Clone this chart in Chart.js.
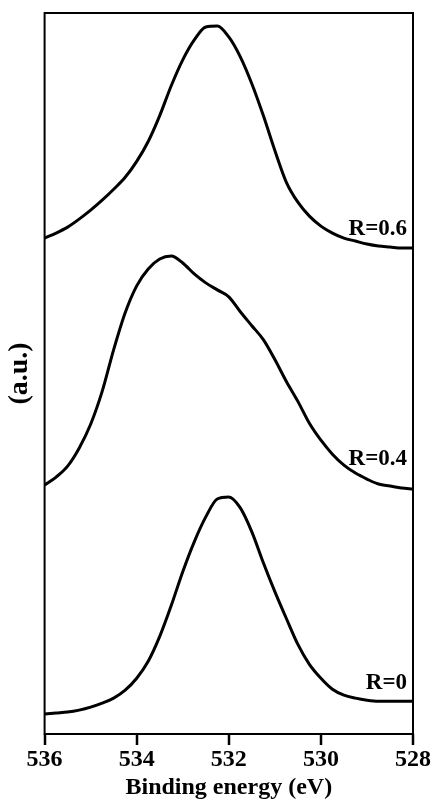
<!DOCTYPE html>
<html>
<head>
<meta charset="utf-8">
<script src="https://cdn.jsdelivr.net/npm/chart.js@4/dist/chart.umd.min.js"></script>
<style>
  html, body { margin: 0; padding: 0; background: #fff; }
  #wrap { width: 437px; height: 800px; position: relative; }
</style>
</head>
<body>
<div id="wrap"><canvas id="xps"></canvas></div>
<script>
// binding energy samples (eV)
const energies = [536, 535.75, 535.5, 535.25, 535, 534.75, 534.5, 534.25, 534, 533.75, 533.5,
  533.25, 533, 532.75, 532.5, 532.25, 532, 531.75, 531.5, 531.25, 531, 530.75, 530.5,
  530.25, 530, 529.75, 529.5, 529.25, 529, 528.75, 528.5, 528.25, 528];

// intensities (a.u., curves already offset as in the figure)
const r06 = [498, 503, 509, 517, 526, 536, 547, 559, 575, 595, 621, 651, 677, 697, 710, 711,
  700, 680, 653, 621, 586, 554, 534, 520, 510, 503, 498, 495, 492, 490, 489, 488, 488];
const r04 = [250, 258, 269, 287, 311, 344, 386, 423, 450, 467, 477, 480, 473, 462, 453, 446,
  439, 424, 410, 396, 376, 354, 334, 312, 295, 281, 270, 262, 256, 251, 249, 247, 246];
const r0 = [20, 21, 22, 24, 27, 31, 36, 44, 56, 73, 98, 129, 163, 193, 218, 236,
  238, 227, 203, 172, 143, 116, 90, 70, 56, 45, 39, 36, 34, 33, 33, 33, 33];

const seriesNames = ["R=0.6", "R=0.4", "R=0"];
const seriesValues = [r06, r04, r0];
// where each name sits (energy, intensity of the baseline)
const labelEnergy = [528.13, 528.13, 528.13];
const labelLevel = [501, 270, 45];

const energyTicks = [536, 534, 532, 530, 528];

const FONT = "'Liberation Serif', 'Times New Roman', serif";

// frame, outward x ticks, curve names
const framePlugin = {
  id: "frame",
  afterDraw(chart) {
    const { ctx, chartArea: a, scales } = chart;
    ctx.save();
    ctx.strokeStyle = "#000";
    ctx.lineWidth = 2;
    ctx.strokeRect(a.left, a.top, a.right - a.left, a.bottom - a.top);

    ctx.lineWidth = 2.5;
    ctx.beginPath();
    energyTicks.forEach(v => {
      const x = Math.round(scales.x.getPixelForValue(v));
      ctx.moveTo(x, a.bottom);
      ctx.lineTo(x, a.bottom + 11);
    });
    ctx.stroke();

    ctx.fillStyle = "#000";
    ctx.font = "bold 23px " + FONT;
    ctx.textAlign = "right";
    ctx.textBaseline = "alphabetic";
    seriesNames.forEach((name, i) => {
      const x = scales.x.getPixelForValue(labelEnergy[i]);
      const y = scales.y.getPixelForValue(labelLevel[i]);
      ctx.fillText(name, x, y);
    });
    ctx.restore();
  }
};

new Chart(document.getElementById("xps"), {
  type: "line",
  data: {
    datasets: seriesValues.map((vals, i) => ({
      label: seriesNames[i],
      data: energies.map((e, k) => ({ x: e, y: vals[k] })),
      borderColor: "#000",
      borderWidth: 3,
      pointRadius: 0,
      cubicInterpolationMode: "monotone",
      fill: false
    }))
  },
  options: {
    responsive: true,
    maintainAspectRatio: false,
    animation: false,
    layout: { padding: { top: 13, right: 24, left: 0, bottom: 0 } },
    plugins: { legend: { display: false }, tooltip: { enabled: false } },
    scales: {
      x: {
        type: "linear",
        reverse: true,
        min: 528,
        max: 536,
        afterBuildTicks: axis => { axis.ticks = energyTicks.map(v => ({ value: v })); },
        border: { display: true, color: "#000", width: 2 },
        grid: {
          drawOnChartArea: false, drawTicks: true, tickLength: 10,
          color: "#000", lineWidth: 2, tickColor: "#000", tickWidth: 2
        },
        ticks: {
          color: "#000", font: { family: FONT, size: 24, weight: "bold", lineHeight: 1 },
          padding: 4, maxRotation: 0
        },
        title: {
          display: true,
          text: "Binding energy (eV)",
          color: "#000",
          font: { family: FONT, size: 24, weight: "bold", lineHeight: 1 },
          padding: { top: 0, bottom: 0 }
        }
      },
      y: {
        min: 0,
        max: 724,
        border: { display: false },
        grid: { display: false, drawTicks: false },
        ticks: { display: false },
        title: {
          display: true,
          text: "(a.u.)",
          color: "#000",
          font: { family: FONT, size: 28, weight: "bold" },
          padding: { top: 3, bottom: 8 }
        }
      }
    }
  },
  plugins: [framePlugin]
});
</script>
</body>
</html>
